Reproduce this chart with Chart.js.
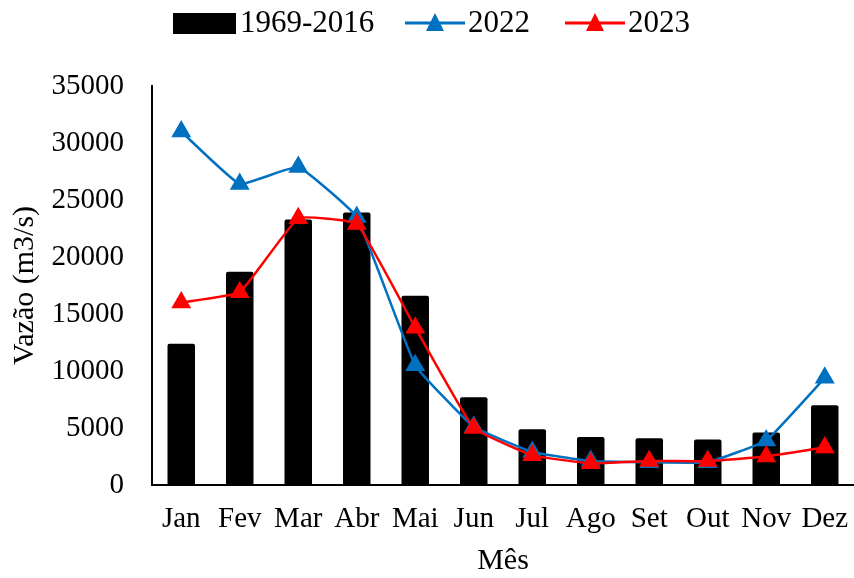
<!DOCTYPE html>
<html>
<head>
<meta charset="utf-8">
<script src="https://cdn.jsdelivr.net/npm/chart.js@4.4.1/dist/chart.umd.min.js"></script>
<style>
  html, body { margin: 0; padding: 0; background: #fff; }
  #wrap { width: 854px; height: 578px; }
</style>
</head>
<body>
<div id="wrap"><canvas id="vazaoChart" width="854" height="578"></canvas></div>
<script>
const meses = ['Jan', 'Fev', 'Mar', 'Abr', 'Mai', 'Jun', 'Jul', 'Ago', 'Set', 'Out', 'Nov', 'Dez'];
const media1969_2016 = [12400, 18700, 23300, 23900, 16600, 7700, 4900, 4200, 4100, 4000, 4600, 7000];
const vazao2022 = [31000, 26400, 27900, 23500, 10500, 5100, 2900, 2100, 2000, 2000, 3900, 9400];
const vazao2023 = [16000, 16900, 23400, 22900, 13800, 5000, 2600, 1900, 2100, 2100, 2500, 3300];

const fonte = 'Liberation Serif, Times New Roman, serif';

// legenda desenhada à mão, no topo
const legendaTopo = {
    id: 'legendaTopo',
    afterDraw(chart) {
        const ctx = chart.ctx;
        const byLabel = l => chart.data.datasets.find(d => d.label === l);
        const barras = byLabel('1969-2016');
        ctx.save();
        ctx.font = '31px ' + fonte;
        ctx.textBaseline = 'middle';
        const cy = 23;

        ctx.fillStyle = barras.backgroundColor;
        ctx.fillRect(173, 13, 63, 21);
        ctx.fillStyle = '#000';
        ctx.fillText(barras.label, 240, cy + 1);

        [['2022', 405, 468], ['2023', 565, 628]].forEach(([l, x0, tx]) => {
            const ds = byLabel(l);
            ctx.strokeStyle = ds.borderColor;
            ctx.lineWidth = 3;
            ctx.beginPath();
            ctx.moveTo(x0, cy);
            ctx.lineTo(x0 + 60, cy);
            ctx.stroke();
            ctx.fillStyle = ds.borderColor;
            ctx.beginPath();
            ctx.moveTo(x0 + 30, cy - 10);
            ctx.lineTo(x0 + 39, cy + 8);
            ctx.lineTo(x0 + 21, cy + 8);
            ctx.closePath();
            ctx.fill();
            ctx.fillStyle = '#000';
            ctx.fillText(ds.label, tx, cy + 1);
        });
        ctx.restore();
    }
};

const ctx = document.getElementById('vazaoChart').getContext('2d');
new Chart(ctx, {
    data: {
        labels: meses,
        datasets: [
            {
                type: 'line',
                label: '2022',
                data: vazao2022,
                borderColor: '#0070C0',
                backgroundColor: '#0070C0',
                borderWidth: 2.5,
                pointStyle: 'triangle',
                pointRadius: 9,
                pointHoverRadius: 9,
                tension: 0.1,
                order: 1
            },
            {
                type: 'line',
                label: '2023',
                data: vazao2023,
                borderColor: '#FF0000',
                backgroundColor: '#FF0000',
                borderWidth: 2.5,
                pointStyle: 'triangle',
                pointRadius: 9,
                pointHoverRadius: 9,
                tension: 0.1,
                order: 0
            },
            {
                type: 'bar',
                label: '1969-2016',
                data: media1969_2016,
                backgroundColor: '#000000',
                borderRadius: 2,
                barPercentage: 0.47,
                categoryPercentage: 1,
                order: 2
            }
        ]
    },
    options: {
        responsive: false,
        animation: false,
        layout: { autoPadding: false, padding: { top: 86, right: 0, bottom: 0, left: 0 } },
        plugins: {
            legend: { display: false },
            tooltip: { enabled: false }
        },
        scales: {
            x: {
                offset: true,
                grid: { display: false, drawTicks: false },
                border: { display: true, color: '#000', width: 2 },
                ticks: { color: '#000', font: { family: fonte, size: 29 }, padding: 17, maxRotation: 0, autoSkip: false },
                title: { display: true, text: 'Mês', color: '#000', font: { family: fonte, size: 30 }, padding: { top: 0, bottom: -1 } },
                afterFit: s => { s.height = 93; s.paddingLeft = 0; s.paddingRight = 0; }
            },
            y: {
                min: 0,
                max: 35000,
                grid: { display: false, drawTicks: false },
                border: { display: true, color: '#000', width: 2 },
                ticks: { stepSize: 5000, color: '#000', font: { family: fonte, size: 29 }, padding: 28, callback: v => String(v) },
                title: { display: true, text: 'Vazão (m3/s)', color: '#000', font: { family: fonte, size: 30 }, padding: { top: 7, bottom: 0 } },
                afterFit: s => { s.width = 152; }
            }
        }
    },
    plugins: [legendaTopo]
});
</script>
</body>
</html>
